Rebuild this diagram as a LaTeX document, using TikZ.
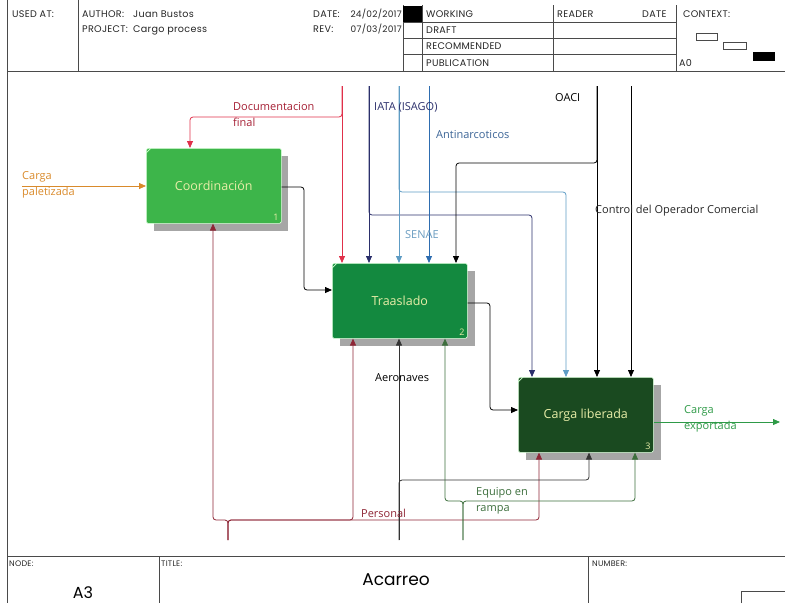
\documentclass[tikz,border=0pt]{standalone}
\usepackage{fontspec}
\setmainfont{Open Sans}
\newfontfamily\hdr[LetterSpace=3]{Poppins}
\newfontfamily\hdrb{Poppins}
\usetikzlibrary{arrows.meta}
\definecolor{frm}{HTML}{4A4A4A}
\definecolor{coordfill}{HTML}{3DB54A}
\definecolor{trasfill}{HTML}{13893F}
\definecolor{clfill}{HTML}{1A4A20}
\definecolor{shd}{HTML}{A6A6A6}
\definecolor{boxtxt}{HTML}{E8EDA8}
\definecolor{docred}{HTML}{E0304A}
\definecolor{doctxt}{HTML}{A51F34}
\definecolor{navy}{HTML}{2B2F6B}
\definecolor{lblue}{HTML}{5E9CC4}
\definecolor{mblue}{HTML}{2E6DB0}
\definecolor{antitxt}{HTML}{3B6496}
\definecolor{senaetxt}{HTML}{6A9CC0}
\definecolor{orng}{HTML}{D98A2B}
\definecolor{expgreen}{HTML}{2E9A47}
\definecolor{persred}{HTML}{8E2535}
\definecolor{aero}{HTML}{333333}
\definecolor{equip}{HTML}{3C6E3C}
\begin{document}
\begin{tikzpicture}[x=1pt,y=-1pt,
  frame/.style={draw=frm,line width=0.8pt},
  hd/.style={anchor=base west,inner sep=0pt,font=\hdr\fontsize{9.6}{11}\selectfont,text=black!85},
  ft/.style={anchor=base west,inner sep=0pt,font=\hdr\fontsize{8}{9}\selectfont,text=black!85},
  box/.style={minimum width=135pt,minimum height=75pt,inner sep=0pt,anchor=north west,
    rounded corners=1.5pt,draw=white!85!green,line width=0.6pt,text=boxtxt,font=\fontsize{12.5}{14}\selectfont},
  shadow/.style={fill=shd},
  num/.style={inner sep=0pt,text=boxtxt,font=\fontsize{9}{10}\selectfont},
  conn/.style={line width=0.8pt,rounded corners=3pt,-{Triangle[length=7pt,width=6pt]}},
  lbl/.style={anchor=west,inner sep=0pt,font=\fontsize{11}{16}\selectfont,align=left},
]
\useasboundingbox (0,0) rectangle (785,603);
% ---------- header ----------
\draw[frame] (7,0) -- (7,603);
\draw[frame] (7,71) -- (785,71);
\draw[frame] (78,0) -- (78,71);
\draw[frame] (403,5) -- (403,71);
\draw[frame] (422,5) -- (422,71);
\draw[frame] (553,5) -- (553,71);
\draw[frame] (676,5) -- (676,71);
\draw[frame] (403,22) -- (676,22);
\draw[frame] (403,38) -- (676,38);
\draw[frame] (403,54) -- (676,54);
\fill[black] (403,6) rectangle (422,22);
\node[hd] (usedat) at (12,17) {USED AT:};
\node[hd] (author) at (82,17) {AUTHOR:};
\node[hd] (authorv) at (133,17) {Juan Bustos};
\node[hd] (project) at (82,32) {PROJECT:};
\node[hd] (projectv) at (133,32) {Cargo process};
\node[hd] (date) at (313,17) {DATE:};
\node[hd,anchor=base east,font=\hdr\fontsize{9}{11}\selectfont] (datev) at (402,17) {24/02/2017};
\node[hd] (rev) at (313,32) {REV:};
\node[hd,anchor=base east,font=\hdr\fontsize{9}{11}\selectfont] (revv) at (402,32) {07/03/2017};
\node[hd] (working) at (426,17) {WORKING};
\node[hd] (draft) at (426,33) {DRAFT};
\node[hd] (recom) at (426,49) {RECOMMENDED};
\node[hd] (public) at (426,66) {PUBLICATION};
\node[hd] (reader) at (557,17) {READER};
\node[hd] (rdate) at (642,17) {DATE};
\node[hd] (context) at (683,17) {CONTEXT:};
\node[hd] (a0) at (679,66) {A0};
\draw[frm,line width=0.7pt] (696,33) rectangle (717,40);
\draw[frm,line width=0.7pt] (723,42) rectangle (746,49);
\fill[black] (753,52) rectangle (775,61);
% ---------- footer ----------
\draw[frame] (7,556) -- (785,556);
\draw[frame] (159,556) -- (159,603);
\draw[frame] (588,556) -- (588,603);
\draw[frame] (741,603) -- (741,591) -- (785,591);
\node[ft] (nodelbl) at (9,566) {NODE:};
\node[ft] (titlelbl) at (161,566) {TITLE:};
\node[ft] (numlbl) at (592,566) {NUMBER:};
\node[inner sep=0pt,font=\hdrb\fontsize{16}{18}\selectfont,anchor=base] (a3) at (83,598) {A3};
\node[inner sep=0pt,font=\hdrb\fontsize{17}{19}\selectfont,anchor=base] (title) at (396,585) {Acarreo};
% ---------- shadows ----------
\fill[shadow] (154,156) rectangle (288,231);
\fill[shadow] (340,271) rectangle (475,346);
\fill[shadow] (526,385) rectangle (661,460);
% ---------- boxes ----------
\node[box,fill=coordfill] (coord) at (146,148) {Coordinación};
\node[box,fill=trasfill] (tras) at (332,263) {Traaslado};
\node[box,fill=clfill] (cl) at (518,377) {Carga liberada};
\foreach \b in {coord,tras,cl}{
  \draw[white!80!green,line width=0.7pt] ([shift={(0pt,-5pt)}]\b.north west) -- ([shift={(5pt,0pt)}]\b.north west);
}
\node[num,anchor=south east] (n1) at ([shift={(-3pt,3pt)}]coord.south east) {1};
\node[num,anchor=south east] (n2) at ([shift={(-3pt,3pt)}]tras.south east) {2};
\node[num,anchor=south east] (n3) at ([shift={(-3pt,3pt)}]cl.south east) {3};
% ---------- inputs / outputs ----------
\coordinate (inA) at (22,186);
\draw[conn,orng] (inA) -- (inA -| coord.west);
\node[lbl,text=orng] (cpal) at (22,185) {Carga\\paletizada};
\draw[conn,black] (coord.east |- 0,187) -- (304,187) -- (304,290) -- (tras.west |- 0,290);
\draw[conn,black] (tras.east |- 0,303) -- (490,303) -- (490,410) -- (cl.west |- 0,410);
\coordinate (outE) at (780,422);
\draw[conn,expgreen] (cl.east |- outE) -- (outE);
\node[lbl,text=expgreen] (cexp) at (684,419) {Carga\\exportada};
% ---------- controls ----------
\coordinate (cDoc) at (342,86);
\coordinate (cIata) at (369,86);
\coordinate (cSen) at (399,86);
\coordinate (cAnti) at (429,86);
\coordinate (cOaci) at (597,86);
\coordinate (cCtrl) at (631,86);
\draw[conn,docred] (cDoc) -- (cDoc |- tras.north);
\draw[conn,docred] (cDoc) -- (342,117) -- (190,117) -- (190,0 |- coord.north);
\draw[conn,navy] (cIata) -- (cIata |- tras.north);
\draw[conn,navy] (cIata) -- (369,215) -- (532,215) -- (532,0 |- cl.north);
\draw[conn,lblue] (cSen) -- (cSen |- tras.north);
\draw[conn,lblue] (cSen) -- (399,192) -- (566,192) -- (566,0 |- cl.north);
\draw[conn,mblue] (cAnti) -- (cAnti |- tras.north);
\draw[conn,black] (cOaci) -- (cOaci |- cl.north);
\draw[conn,black] (cOaci) -- (597,163) -- (456,163) -- (456,0 |- tras.north);
\draw[conn,black] (cCtrl) -- (cCtrl |- cl.north);
\node[lbl,text=doctxt] (ldoc) at (233,115) {Documentacion\\final};
\node[lbl,text=navy] (liata) at (374,107) {IATA (ISAGO)};
\node[lbl,text=antitxt] (lanti) at (436,135) {Antinarcoticos};
\node[lbl,text=black] (loaci) at (555,98) {OACI};
\node[lbl,text=black!85] (lctrl) at (595,211) {Control del Operador Comercial};
\node[lbl,text=senaetxt] (lsen) at (405,235) {SENAE};
% ---------- mechanisms ----------
\coordinate (mPers) at (228,540);
\coordinate (mAero) at (399,540);
\coordinate (mEq) at (463,540);
\draw[conn,persred] (mPers) -- (228,520) -- (213,520) -- (213,0 |- coord.south);
\draw[conn,persred] (mPers) -- (228,520) -- (353,520) -- (353,0 |- tras.south);
\draw[conn,persred] (mPers) -- (228,520) -- (539,520) -- (539,0 |- cl.south);
\draw[conn,aero] (mAero) -- (mAero |- tras.south);
\draw[conn,aero] (mAero) -- (399,480) -- (589,480) -- (589,0 |- cl.south);
\draw[conn,equip] (mEq) -- (463,501) -- (445,501) -- (445,0 |- tras.south);
\draw[conn,equip] (mEq) -- (463,501) -- (635,501) -- (635,0 |- cl.south);
\node[lbl,text=persred] (lpers) at (361,513) {Personal};
\node[lbl,text=black] (laero) at (375,378) {Aeronaves};
\node[lbl,text=equip] (leq) at (476,501) {Equipo en\\rampa};
\end{tikzpicture}
\end{document}
